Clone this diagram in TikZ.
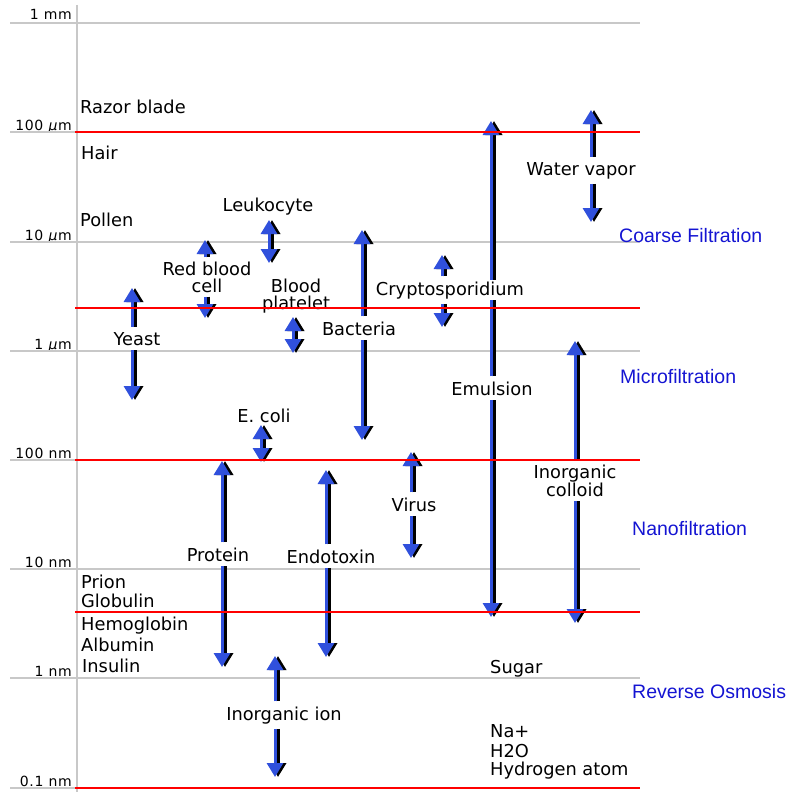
\documentclass[tikz,border=0pt]{standalone}
\usepackage{fontspec}
\setmainfont{DejaVu Sans}
\newfontfamily\arialfont{Liberation Sans}
\newfontfamily\scalefont[LetterSpace=5]{DejaVu Sans}
\usetikzlibrary{arrows.meta}
\definecolor{arrowblue}{RGB}{48,80,220}
\definecolor{zoneblue}{RGB}{20,20,210}
\definecolor{gridgray}{RGB}{200,200,200}

\begin{document}
\begin{tikzpicture}[
    x=1pt, y=-1pt,
    scalelbl/.style={anchor=base east, inner sep=0pt, font=\scalefont\fontsize{14}{14}\selectfont},
    item/.style={anchor=base, inner sep=5pt, font=\fontsize{17.8}{17}\selectfont},
    itemtwo/.style={inner sep=4pt, align=center, font=\fontsize{17.8}{17}\selectfont},
    leftitem/.style={anchor=base west, inner sep=0pt, font=\fontsize{17.8}{17}\selectfont},
    zone/.style={anchor=base west, inner sep=0pt, text=zoneblue, font=\arialfont\fontsize{19.5}{20}\selectfont},
    gridline/.style={gridgray, line width=2.5pt},
    cutline/.style={red, line width=1.6pt},
    sizearr/.style={draw=arrowblue, line width=3pt, -{Triangle[length=14pt, width=16pt]},
        preaction={draw=black, line width=3.5pt, transform canvas={xshift=3pt}}},
    twoway/.style={sizearr, {Triangle[length=14pt, width=16pt]}-{Triangle[length=14pt, width=16pt]}}
]
\useasboundingbox (0,0) rectangle (788,792);

% scale
\node[scalelbl] (mm1)   at (72,20)  {1 mm};
\node[scalelbl] (um100) at (72,130) {100 \textit{µ}m};
\node[scalelbl] (um10)  at (72,240) {10 \textit{µ}m};
\node[scalelbl] (um1)   at (72,349) {1 \textit{µ}m};
\node[scalelbl] (nm100) at (72,458) {100 nm};
\node[scalelbl] (nm10)  at (72,567) {10 nm};
\node[scalelbl] (nm1)   at (72,676) {1 nm};
\node[scalelbl] (nm01)  at (72,786) {0.1 nm};

\foreach \y in {23,242,351,569,678}
    \draw[gridline] (10,\y) -- (640,\y);
\foreach \y in {132,460,788}
    \draw[gridline] (10,\y) -- (77,\y);
\draw[gridline] (77,5) -- (77,792);

% particles
\node[leftitem] (razor)  at (80,113) {Razor blade};
\node[leftitem] (hair)   at (81,159) {Hair};
\node[leftitem] (pollen) at (80,226) {Pollen};
\node[item] (leuko) at (268,211) {Leukocyte};
\node[itemtwo] (rbc) at (207,277) {Red blood\\cell};
\node[itemtwo] (platelet) at (296,296) {Blood\\platelet};
\node[item] (yeast) at (137,345) {Yeast};
\node[item] (bact) at (359,335) {Bacteria};
\node[item] (emul) at (492,395) {Emulsion};
\node[item] (ecoli) at (264,422) {E. coli};
\node[itemtwo] (colloid) at (575,481) {Inorganic\\colloid};
\node[item] (virus) at (414,511) {Virus};
\node[item] (protein) at (218,561) {Protein};
\node[item] (endo) at (331,563) {Endotoxin};
\node[item] (ion) at (284,720) {Inorganic ion};
\node[item] (water) at (581,175) {Water vapor};
\node[leftitem] (prion)  at (81,588) {Prion};
\node[leftitem] (glob)   at (81,607) {Globulin};
\node[leftitem] (hemo)   at (81,630) {Hemoglobin};
\node[leftitem] (albu)   at (81,651) {Albumin};
\node[leftitem] (insu)   at (82,672) {Insulin};
\node[leftitem] (sugar)  at (490,673) {Sugar};
\node[leftitem] (na)     at (490,737) {Na+};
\node[leftitem] (htwoo)  at (490,757) {H2O};
\node[leftitem] (hatom)  at (490,775) {Hydrogen atom};

% size ranges
\coordinate (water-hi) at (591,110);   \coordinate (water-lo) at (591,222);
\coordinate (emul-hi) at (491,121);    \coordinate (emul-lo) at (491,617);
\coordinate (colloid-hi) at (575,341); \coordinate (colloid-lo) at (575,623);
\coordinate (leuko-hi) at (269,220);   \coordinate (leuko-lo) at (269,263);
\coordinate (rbc-hi) at (205,240);     \coordinate (rbc-lo) at (205,318);
\coordinate (plate-hi) at (293,317);   \coordinate (plate-lo) at (293,353);
\coordinate (crypto-hi) at (442,255);  \coordinate (crypto-lo) at (442,327);
\coordinate (bact-hi) at (362,230);    \coordinate (bact-lo) at (362,440);
\coordinate (yeast-hi) at (132,288);   \coordinate (yeast-lo) at (132,400);
\coordinate (ecoli-hi) at (261,425);   \coordinate (ecoli-lo) at (261,462);
\coordinate (virus-hi) at (411,452);   \coordinate (virus-lo) at (411,558);
\coordinate (protein-hi) at (222,461); \coordinate (protein-lo) at (222,667);
\coordinate (endo-hi) at (326,470);    \coordinate (endo-lo) at (326,657);
\coordinate (ion-hi) at (275,656);     \coordinate (ion-lo) at (275,777);

\draw[sizearr] (water-hi |- water.north) -- (water-hi);
\draw[sizearr] (water-lo |- water.south) -- (water-lo);
\draw[sizearr] (emul-hi |- emul.north) -- (emul-hi);
\draw[sizearr] (emul-lo |- emul.south) -- (emul-lo);
\draw[sizearr] (colloid-hi |- colloid.north) -- (colloid-hi);
\draw[sizearr] (colloid-lo |- colloid.south) -- (colloid-lo);
\draw[twoway] (leuko-hi) -- (leuko-lo);
\draw[sizearr] (rbc-hi |- rbc.north) -- (rbc-hi);
\draw[sizearr] (rbc-lo |- rbc.south) -- (rbc-lo);
\draw[twoway] (plate-hi) -- (plate-lo);
\draw[sizearr] (bact-hi |- bact.north) -- (bact-hi);
\draw[sizearr] (bact-lo |- bact.south) -- (bact-lo);
\draw[sizearr] (yeast-hi |- yeast.north) -- (yeast-hi);
\draw[sizearr] (yeast-lo |- yeast.south) -- (yeast-lo);
\draw[twoway] (ecoli-hi) -- (ecoli-lo);
\draw[sizearr] (virus-hi |- virus.north) -- (virus-hi);
\draw[sizearr] (virus-lo |- virus.south) -- (virus-lo);
\draw[sizearr] (protein-hi |- protein.north) -- (protein-hi);
\draw[sizearr] (protein-lo |- protein.south) -- (protein-lo);
\draw[sizearr] (endo-hi |- endo.north) -- (endo-hi);
\draw[sizearr] (endo-lo |- endo.south) -- (endo-lo);
\draw[sizearr] (ion-hi |- ion.north) -- (ion-hi);
\draw[sizearr] (ion-lo |- ion.south) -- (ion-lo);

% label sits over the emulsion shaft
\node[item, fill=white, inner ysep=1pt, inner xsep=0pt] (crypto) at (450,295) {Cryptosporidium};
\draw[sizearr, shorten <=4pt] (crypto-hi |- crypto.north) -- (crypto-hi);
\draw[sizearr, shorten <=4pt] (crypto-lo |- crypto.south) -- (crypto-lo);

% filtration limits
\foreach \y in {132,308,460,612,788}
    \draw[cutline] (75,\y) -- (640,\y);

\node[zone] (coarse) at (619,242) {Coarse Filtration};
\node[zone] (micro)  at (620,383) {Microfiltration};
\node[zone] (nano)   at (632,535) {Nanofiltration};
\node[zone] (ro)     at (632,698) {Reverse Osmosis};

\end{tikzpicture}
\end{document}
